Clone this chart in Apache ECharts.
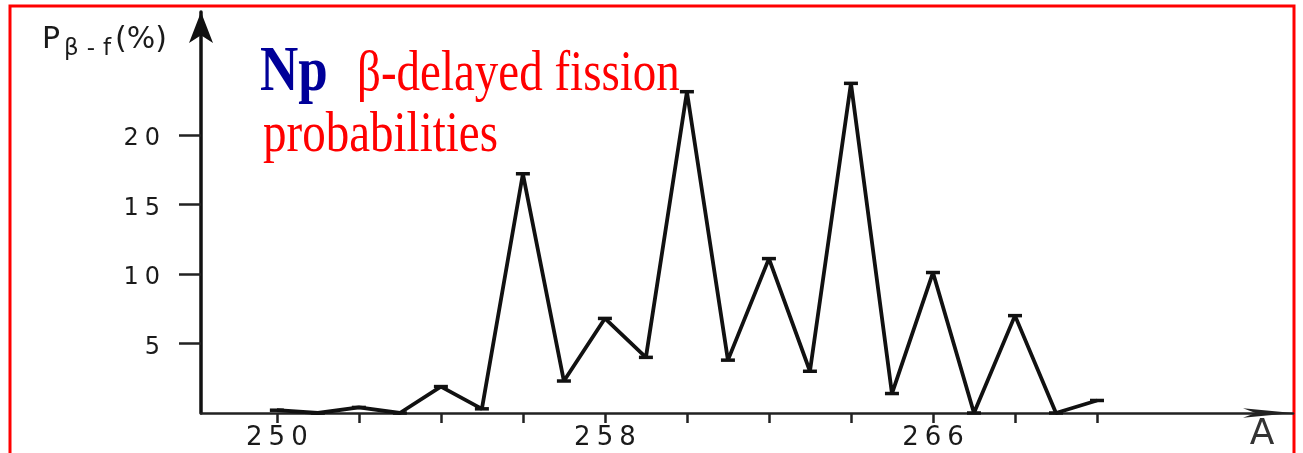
<!DOCTYPE html>
<html>
<head>
<meta charset="utf-8">
<script src="https://cdn.jsdelivr.net/npm/echarts@6/dist/echarts.min.js"></script>
<style>
html,body{margin:0;padding:0;background:#fff;}
#chart{width:1303px;height:453px;}
</style>
</head>
<body>
<div id="chart"></div>
<script>
// Mass numbers A of the Np isotopes
const massNumbers = [250, 251, 252, 253, 254, 255, 256, 257, 258, 259, 260, 261, 262, 263, 264, 265, 266, 267, 268, 269, 270];
// beta-delayed fission probability P(beta-f) in %
const fissionProb = [0.2, 0, 0.4, 0, 1.9, 0.3, 17.2, 2.3, 6.8, 4.0, 23.1, 3.8, 11.1, 3.0, 23.7, 1.4, 10.1, 0, 7.0, 0, 0.9];
// axis ticks and labels
const yTickValues = [5, 10, 15, 20];
const xTickValues = [250, 252, 254, 256, 258, 260, 262, 264, 266, 268, 270];
const xLabelValues = [250, 258, 266];

const spaced = v => String(v).split('').map(c => '{d|' + c + '}').join('');

const chart = echarts.init(document.getElementById('chart'), null, {renderer: 'canvas'});
chart.setOption({
  animation: false,
  backgroundColor: '#ffffff',
  grid: {left: 201, right: 10, top: 12, bottom: 36},
  xAxis: {
    type: 'value',
    min: 248.15,
    max: 274.78,
    name: 'A',
    nameLocation: 'end',
    nameGap: -31,
    nameTextStyle: {
      fontFamily: 'DejaVu Sans', fontSize: 36, color: '#333',
      align: 'center', verticalAlign: 'top', padding: [4, 0, 0, 0]
    },
    axisLine: {
      show: true, onZero: false,
      lineStyle: {color: '#222', width: 2.5},
      symbol: ['none', 'arrow'], symbolSize: [7, 50], symbolOffset: [0, 0]
    },
    axisTick: {
      show: true, inside: false, length: 10,
      customValues: xTickValues,
      lineStyle: {color: '#222', width: 2.5}
    },
    axisLabel: {
      show: true, margin: 12,
      fontFamily: 'DejaVu Sans', fontSize: 26, color: '#1a1a1a',
      customValues: xLabelValues,
      formatter: spaced,
      rich: {d: {fontFamily: 'DejaVu Sans', fontSize: 26, color: '#1a1a1a', padding: [0, 3, 0, 3]}}
    },
    splitLine: {show: false}
  },
  yAxis: {
    type: 'value',
    min: 0,
    max: 28.83,
    name: '{a|P}{b|β}{b|-}{b|f}{a|(%)}',
    nameLocation: 'end',
    nameGap: -28,
    nameTextStyle: {
      align: 'right', verticalAlign: 'middle', padding: [0, 34, 0, 0],
      rich: {
        a: {fontFamily: 'DejaVu Sans', fontSize: 30, color: '#1a1a1a'},
        b: {fontFamily: 'DejaVu Sans', fontSize: 23, color: '#1a1a1a', padding: [18, 4, 0, 4]}
      }
    },
    axisLine: {
      show: true, onZero: false,
      lineStyle: {color: '#111', width: 3.5},
      symbol: ['none', 'arrow'], symbolSize: [18, 31], symbolOffset: [0, 0]
    },
    axisTick: {
      show: true, inside: false, length: 22,
      customValues: yTickValues,
      lineStyle: {color: '#222', width: 2.5}
    },
    axisLabel: {
      show: true, margin: 38,
      fontFamily: 'DejaVu Sans', fontSize: 24, color: '#1a1a1a',
      customValues: yTickValues,
      formatter: spaced,
      rich: {d: {fontFamily: 'DejaVu Sans', fontSize: 24, color: '#1a1a1a', padding: [8, 3, 0, 3]}}
    },
    splitLine: {show: false}
  },
  series: [{
    type: 'line',
    data: massNumbers.map((a, i) => [a, fissionProb[i]]),
    symbol: 'rect',
    symbolSize: [14, 3.5],
    showAllSymbol: true,
    itemStyle: {color: '#111'},
    lineStyle: {color: '#111', width: 3.8},
    z: 5
  }],
  graphic: [
    {
      type: 'rect', silent: true,
      shape: {x: 10, y: 6, width: 1284, height: 470},
      style: {fill: 'none', stroke: '#ff0000', lineWidth: 3}
    },
    {
      type: 'text', x: 260, y: 74, scaleY: 1.2,
      style: {text: 'Np', x: 0, y: 0, font: 'bold 53px "Liberation Serif"', fill: '#000099', align: 'left', verticalAlign: 'middle'}
    },
    {
      type: 'text', x: 357, y: 75, scaleY: 1.2,
      style: {text: 'β-delayed fission', x: 0, y: 0, font: '47px "Liberation Serif"', fill: '#ff0000', align: 'left', verticalAlign: 'middle'}
    },
    {
      type: 'text', x: 263, y: 136, scaleY: 1.2,
      style: {text: 'probabilities', x: 0, y: 0, font: '47px "Liberation Serif"', fill: '#ff0000', align: 'left', verticalAlign: 'middle'}
    }
  ]
});
</script>
</body>
</html>
